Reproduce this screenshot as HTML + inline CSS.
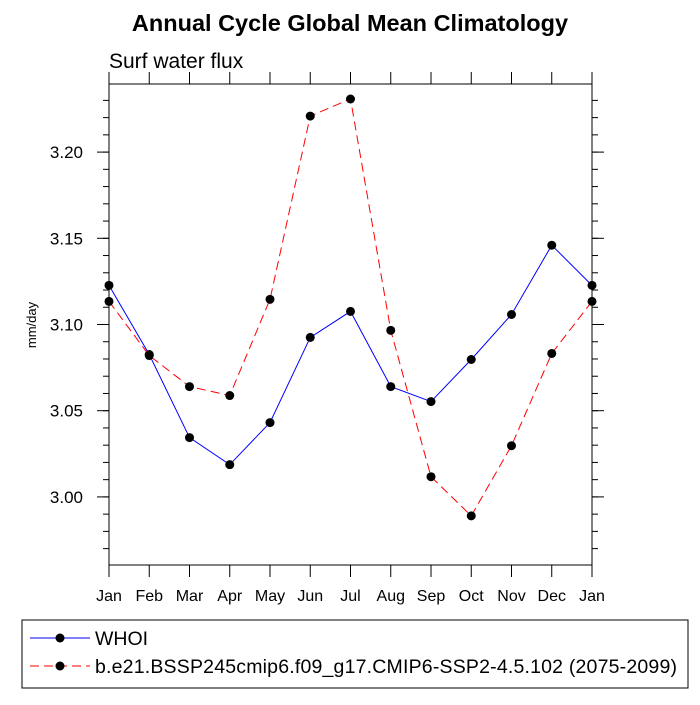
<!DOCTYPE html>
<html><head><meta charset="utf-8"><style>
body{margin:0;background:#fff;font-family:"Liberation Sans",sans-serif}
</style></head><body>
<svg width="700" height="700" xmlns="http://www.w3.org/2000/svg" font-family="Liberation Sans, sans-serif">
<g id="g"></g>
</svg>
<script>
const months=["Jan","Feb","Mar","Apr","May","Jun","Jul","Aug","Sep","Oct","Nov","Dec","Jan"];
const whoi=[3.1227,3.0826,3.0344,3.0187,3.0431,3.0925,3.1076,3.0640,3.0553,3.0797,3.1058,3.1460,3.1227];
const ssp=[3.1134,3.0820,3.0640,3.0588,3.1146,3.2209,3.2308,3.0966,3.0117,2.9890,3.0297,3.0832,3.1134];
const yTicks=[3.00,3.05,3.10,3.15,3.20];
const yTickLabels=["3.00","3.05","3.10","3.15","3.20"];
const L=109,R=592,T=84,B=565,yMin=2.9605,yMax=3.2395;
const X=i=>L+i*(R-L)/(months.length-1);
const Y=v=>B-(v-yMin)/(yMax-yMin)*(B-T);
const g=document.getElementById('g');const NS="http://www.w3.org/2000/svg";
function mk(t,a,txt){const e=document.createElementNS(NS,t);for(const k in a)e.setAttribute(k,a[k]);if(txt!==undefined)e.textContent=txt;g.appendChild(e);return e;}
let e;
e=mk('text',{x:350,y:31,'text-anchor':'middle','font-size':23.5,'font-weight':'bold'},'Annual Cycle Global Mean Climatology');


e=mk('text',{x:109,y:68,'font-size':21},'Surf water flux');


e=mk('text',{x:0,y:0,'font-size':13,'text-anchor':'middle',transform:'translate(36,325) rotate(-90)'},'mm/day');


e=mk('rect',{x:L,y:T,width:R-L,height:B-T,fill:'none',stroke:'#000','stroke-width':1});


for(let v=2.97;v<=3.235;v+=0.01){const y=Y(v);
 mk('line',{x1:L,x2:L-6,y1:y,y2:y,stroke:'#000'});mk('line',{x1:R,x2:R+6,y1:y,y2:y,stroke:'#000'});}
yTicks.forEach((v,i)=>{const y=Y(v);
 mk('line',{x1:L,x2:L-12,y1:y,y2:y,stroke:'#000'});mk('line',{x1:R,x2:R+12,y1:y,y2:y,stroke:'#000'});
 e=mk('text',{x:L-26,y:y+6,'text-anchor':'end','font-size':17},yTickLabels[i]);
 
 });
months.forEach((m,i)=>{const x=X(i);
 mk('line',{x1:x,x2:x,y1:B,y2:B+12,stroke:'#000'});mk('line',{x1:x,x2:x,y1:T,y2:T-12,stroke:'#000'});
 e=mk('text',{x:x,y:B+36,'text-anchor':'middle','font-size':16},m);
 
 });
function series(d,col,dash,name){
 e=mk('polyline',{points:d.map((v,i)=>X(i)+','+Y(v)).join(' '),fill:'none',stroke:col,'stroke-width':1,'stroke-dasharray':dash});
 
 
 d.forEach((v,i)=>{e=mk('circle',{cx:X(i),cy:Y(v),r:4.5,fill:'#000'});
 
 });}
series(whoi,'#0000ff','none','whoi');
series(ssp,'#ff0000','9,5','ssp245');
e=mk('rect',{x:22,y:620,width:666,height:68,fill:'none',stroke:'#000'});


mk('line',{x1:30,x2:90,y1:638,y2:638,stroke:'#0000ff'});mk('circle',{cx:60,cy:638,r:4.5,fill:'#000'});
e=mk('text',{x:95,y:645,'font-size':19.5},'WHOI');


mk('line',{x1:30,x2:90,y1:666,y2:666,stroke:'#ff0000','stroke-dasharray':'9,5'});mk('circle',{cx:60,cy:666,r:4.5,fill:'#000'});
e=mk('text',{x:95,y:673,'font-size':19.5,textLength:582},'b.e21.BSSP245cmip6.f09_g17.CMIP6-SSP2-4.5.102 (2075-2099)');


</script>
</body></html>
